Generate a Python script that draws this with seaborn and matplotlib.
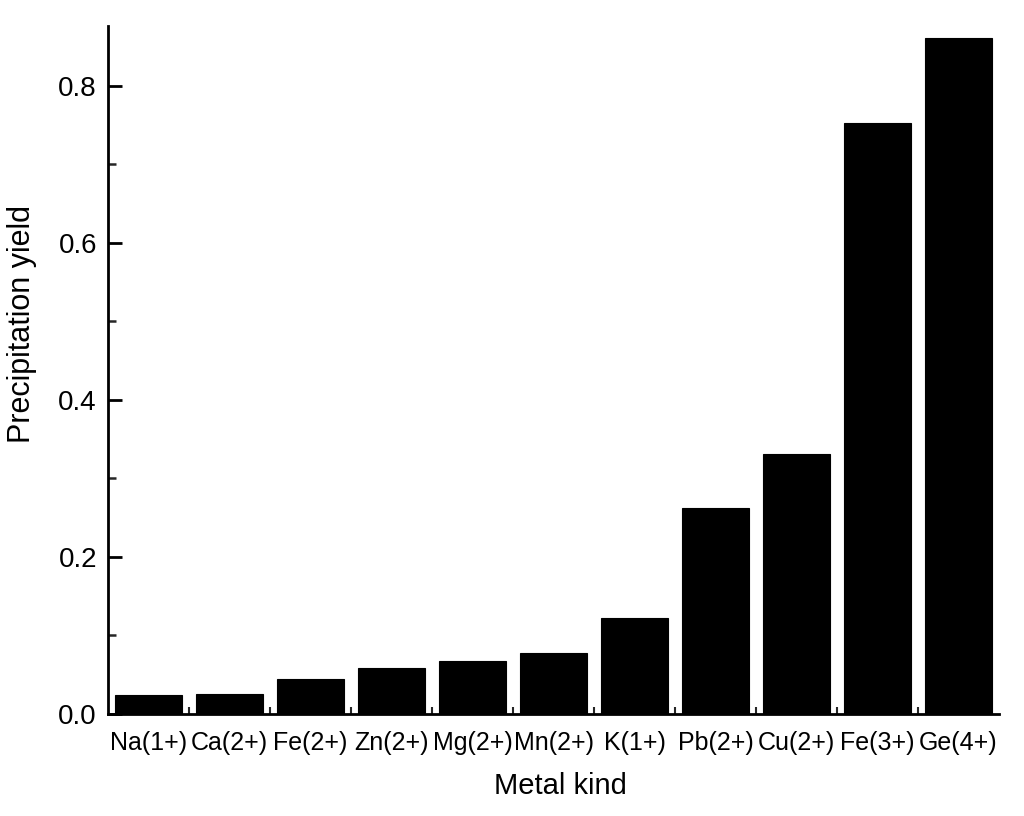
import matplotlib
matplotlib.use("Agg")
import matplotlib.pyplot as plt
import seaborn as sns
import pandas as pd
from matplotlib.ticker import MultipleLocator, FixedLocator

metals = ["Na(1+)", "Ca(2+)", "Fe(2+)", "Zn(2+)", "Mg(2+)", "Mn(2+)",
          "K(1+)", "Pb(2+)", "Cu(2+)", "Fe(3+)", "Ge(4+)"]
yields = [0.024, 0.026, 0.045, 0.058, 0.067, 0.078,
          0.122, 0.262, 0.331, 0.752, 0.861]

df = pd.DataFrame({"Metal kind": metals, "Precipitation yield": yields})

sns.set_theme(style="ticks")
plt.rcParams['font.family'] = ['Liberation Sans', 'DejaVu Sans']

fig = plt.figure(figsize=(10.24, 8.16), dpi=100)
ax = fig.add_axes([0.1055, 0.125, 0.8701, 0.843])

sns.barplot(data=df, x="Metal kind", y="Precipitation yield", color="black",
            width=0.83, ax=ax, saturation=1)
for p in ax.patches:
    p.set_edgecolor("black")
    p.set_linewidth(0.8)

ax.set_xlim(-0.5, 10.5)
ax.set_ylim(0, 0.876)
ax.yaxis.set_major_locator(MultipleLocator(0.2))
ax.yaxis.set_minor_locator(MultipleLocator(0.1))
ax.xaxis.set_minor_locator(FixedLocator([i + 0.5 for i in range(10)]))
ax.yaxis.set_major_formatter(matplotlib.ticker.FormatStrFormatter('%.1f'))

for s in ["top", "right"]:
    ax.spines[s].set_visible(False)
for s in ["left", "bottom"]:
    ax.spines[s].set_linewidth(2.0)
    ax.spines[s].set_color("black")

ax.tick_params(axis="y", which="major", direction="in", length=10, width=2,
               labelsize=20, pad=8, colors="black")
ax.tick_params(axis="y", which="minor", direction="in", length=6, width=1.8)
ax.tick_params(axis="x", which="major", direction="in", length=0,
               labelsize=18, pad=12, colors="black")
ax.tick_params(axis="x", which="minor", direction="in", length=5, width=1.5)

ax.set_xlabel("Metal kind", fontsize=21, labelpad=14, color="black")
ax.set_ylabel("Precipitation yield", fontsize=22, labelpad=16, color="black")
ax.xaxis.set_label_coords(0.508, -0.085)
ax.yaxis.set_label_coords(-0.08, 0.567)

fig.savefig("out.png", dpi=100)
